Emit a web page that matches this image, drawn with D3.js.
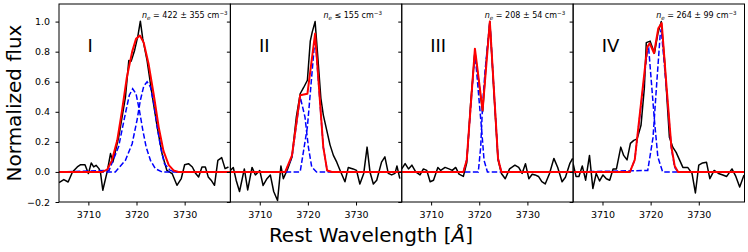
<!DOCTYPE html>
<html>
<head>
<meta charset="utf-8">
<script src="https://cdn.jsdelivr.net/npm/d3@7"></script>
<style>
  body { margin: 0; background: #fff; }
  svg { display: block; font-family: "DejaVu Sans", sans-serif; }
</style>
</head>
<body>
<script>
const waveI = [3703.9, 3704.9, 3705.8, 3706.7, 3707.7, 3708.4, 3709.3, 3710.0, 3710.6, 3711.1, 3711.6, 3712.2, 3712.5, 3713.0, 3713.9, 3714.6, 3715.1, 3716.3, 3717.0, 3717.7, 3718.4, 3718.9, 3719.6, 3720.3, 3720.8, 3721.3, 3722.2, 3723.2, 3724.3, 3725.3, 3726.3, 3727.4, 3728.4, 3729.3, 3730.0, 3730.8, 3731.6, 3732.3, 3732.9, 3733.6, 3734.3, 3734.9, 3735.5, 3736.2, 3736.9, 3737.7, 3738.4, 3739.1];
const fluxI = [-0.071, -0.051, -0.067, 0.0, 0.033, 0.048, 0.048, -0.011, 0.06, 0.033, 0.044, 0.022, 0.0, -0.122, 0.0, 0.122, 0.066, 0.232, 0.365, 0.498, 0.741, 0.737, 0.808, 0.907, 1.003, 0.885, 0.741, 0.52, 0.299, 0.122, 0.011, -0.011, -0.089, -0.044, 0.048, 0.055, 0.033, -0.011, -0.033, 0.033, 0.033, -0.033, -0.055, -0.089, 0.077, 0.095, 0.022, 0.033];

const waveII = [3703.9, 3704.5, 3705.1, 3705.8, 3706.8, 3707.5, 3708.4, 3709.1, 3710.0, 3710.7, 3711.5, 3712.2, 3712.9, 3713.7, 3714.4, 3714.9, 3715.8, 3716.7, 3717.6, 3718.4, 3719.1, 3719.9, 3720.5, 3720.9, 3721.5, 3722.0, 3722.7, 3723.2, 3723.9, 3724.6, 3725.3, 3726.0, 3726.7, 3727.7, 3728.4, 3729.4, 3730.1, 3730.8, 3731.6, 3732.3, 3732.9, 3733.6, 3734.3, 3735.3, 3736.0, 3736.7, 3737.4, 3738.1, 3738.5, 3739.1];
const fluxII = [0.01, 0.03, -0.055, -0.13, 0.02, -0.12, 0.03, -0.02, 0.01, -0.09, -0.045, -0.02, -0.13, -0.19, 0.04, -0.045, 0.02, 0.1, 0.365, 0.52, 0.56, 0.61, 0.87, 0.93, 1.0, 0.79, 0.49, 0.38, 0.28, 0.18, 0.11, 0.065, 0.01, -0.065, 0.03, 0.02, 0.01, -0.08, -0.01, 0.165, 0.0, -0.08, -0.055, 0.065, 0.1, -0.01, -0.02, -0.01, 0.04, -0.045];

const waveIII = [3703.9, 3704.6, 3705.3, 3706.0, 3706.8, 3707.7, 3708.4, 3709.1, 3709.8, 3710.5, 3711.4, 3712.0, 3712.9, 3713.7, 3714.4, 3715.1, 3715.8, 3716.7, 3717.4, 3718.2, 3719.1, 3719.9, 3720.7, 3721.5, 3722.2, 3723.1, 3723.9, 3724.6, 3725.4, 3726.3, 3727.4, 3728.2, 3728.9, 3729.6, 3730.3, 3731.0, 3731.6, 3732.3, 3733.0, 3733.7, 3734.6, 3735.5, 3736.3, 3737.2, 3737.9, 3738.8, 3739.4];
const fluxIII = [0.02, 0.055, 0.02, 0.045, 0.0, -0.02, 0.02, 0.01, -0.065, -0.055, 0.03, 0.01, 0.03, 0.02, 0.01, 0.03, -0.015, -0.03, 0.06, 0.45, 0.8, 0.6, 0.4, 0.75, 1.0, 0.5, 0.08, -0.01, -0.045, 0.02, 0.045, 0.03, -0.01, 0.055, -0.045, -0.015, -0.02, -0.03, -0.065, -0.08, -0.01, 0.09, 0.03, -0.065, -0.035, 0.055, 0.09];

const waveIV = [3703.9, 3704.5, 3705.1, 3705.8, 3706.5, 3707.3, 3708.0, 3708.7, 3709.4, 3710.1, 3710.8, 3711.5, 3712.2, 3712.9, 3713.8, 3714.4, 3715.1, 3715.8, 3716.5, 3717.2, 3718.0, 3718.7, 3719.1, 3719.9, 3720.8, 3721.5, 3722.2, 3722.9, 3723.9, 3724.6, 3725.3, 3726.0, 3726.7, 3727.7, 3728.6, 3729.3, 3730.0, 3730.8, 3731.6, 3732.3, 3733.2, 3734.1, 3735.0, 3735.8, 3736.9, 3737.7, 3738.5, 3739.4];
const fluxIV = [0.055, -0.03, -0.03, 0.04, -0.055, 0.11, -0.11, -0.01, -0.06, -0.02, -0.045, -0.055, 0.02, 0.02, 0.165, 0.11, 0.08, 0.19, 0.21, 0.22, 0.31, 0.56, 0.86, 0.87, 0.79, 0.92, 1.0, 0.74, 0.23, 0.165, 0.13, 0.08, 0.03, 0.03, -0.01, -0.14, 0.045, 0.06, 0.065, -0.045, 0.01, -0.01, -0.02, -0.03, 0.02, -0.03, -0.1, -0.02];

// total fits (red) as [wavelength, flux]
const fitI = [[3703.9, 0], [3712.9, 0], [3713.9, 0.015], [3714.9, 0.077], [3716.0, 0.21], [3717.0, 0.41], [3718.0, 0.63], [3719.1, 0.8], [3719.9, 0.885], [3720.7, 0.907], [3721.5, 0.86], [3722.5, 0.72], [3723.6, 0.51], [3724.6, 0.3], [3725.6, 0.14], [3726.7, 0.045], [3727.7, 0.01], [3728.7, 0], [3739.5, 0]];
const fitII = [[3703.9, 0], [3715.3, 0], [3716.7, 0.11], [3718.4, 0.51], [3719.9, 0.52], [3721.5, 0.92], [3723.2, 0.165], [3724.0, 0.01], [3725.0, 0], [3739.5, 0]];
const fitIII = [[3703.9, 0], [3716.7, 0], [3717.4, 0.08], [3719.1, 0.82], [3720.7, 0.41], [3722.2, 1.0], [3723.9, 0.09], [3724.6, 0], [3739.5, 0]];
const fitIV = [[3703.9, 0], [3715.7, 0], [3716.7, 0.08], [3719.3, 0.83], [3719.8, 0.856], [3720.7, 0.79], [3721.6, 0.956], [3722.3, 0.99], [3723.3, 0.57], [3724.3, 0.17], [3725.0, 0.04], [3725.7, 0], [3739.5, 0]];

// individual [OII] components (blue dashed)
const blueAI = [[3703.9, 0], [3714.3, 0.01], [3716.3, 0.17], [3717.7, 0.39], [3718.5, 0.51], [3719.2, 0.553], [3719.9, 0.52], [3720.6, 0.41], [3721.3, 0.28], [3722.0, 0.166], [3722.9, 0.077], [3723.9, 0.022], [3725.3, 0], [3739.5, 0]];
const blueBI = [[3703.9, 0], [3715.6, 0], [3717.7, 0.077], [3719.1, 0.188], [3720.1, 0.343], [3720.8, 0.476], [3721.5, 0.57], [3722.2, 0.6], [3722.9, 0.565], [3723.6, 0.454], [3724.3, 0.3], [3725.0, 0.166], [3725.8, 0.055], [3727.0, 0.01], [3728.1, 0], [3739.5, 0]];
const blueAII = [[3703.9, 0], [3715.3, 0], [3716.7, 0.1], [3718.4, 0.5], [3719.4, 0.365], [3720.1, 0.166], [3720.8, 0.033], [3721.8, 0], [3739.5, 0]];
const blueBII = [[3703.9, 0], [3718.4, 0], [3719.9, 0.3], [3721.5, 0.9], [3723.2, 0.165], [3724.0, 0.01], [3725.0, 0], [3739.5, 0]];
const blueAIII = [[3703.9, 0], [3716.7, 0], [3717.4, 0.08], [3719.1, 0.8], [3719.9, 0.5], [3720.5, 0.28], [3721.0, 0.077], [3721.7, 0], [3739.5, 0]];
const blueBIII = [[3703.9, 0], [3719.8, 0], [3720.3, 0.166], [3720.7, 0.45], [3721.2, 0.67], [3722.2, 1.0], [3723.9, 0.09], [3724.6, 0], [3739.5, 0]];
const blueAIV = [[3703.9, 0], [3715.7, 0], [3716.7, 0.08], [3719.3, 0.8], [3719.6, 0.82], [3720.8, 0.34], [3721.5, 0.1], [3722.5, 0], [3739.5, 0]];
const blueBIV = [[3703.9, 0], [3719.4, 0.01], [3720.5, 0.23], [3721.2, 0.56], [3722.0, 0.92], [3722.2, 0.95], [3723.3, 0.55], [3724.3, 0.16], [3725.0, 0.03], [3725.7, 0], [3739.5, 0]];

const panelLabels = ["I", "II", "III", "IV"];
const neRelation = ["= 422 \u00b1 355", "\u2264 155", "= 208 \u00b1 54", "= 264 \u00b1 99"];
const xTicks = [3710, 3720, 3730];
const yTicks = [-0.2, 0.0, 0.2, 0.4, 0.6, 0.8, 1.0];

const panels = [
  { wave: waveI, flux: fluxI, fit: fitI, comps: [blueAI, blueBI] },
  { wave: waveII, flux: fluxII, fit: fitII, comps: [blueAII, blueBII] },
  { wave: waveIII, flux: fluxIII, fit: fitIII, comps: [blueAIII, blueBIII] },
  { wave: waveIV, flux: fluxIV, fit: fitIV, comps: [blueAIV, blueBIV] },
];

const width = 748, height = 252;
const plotLeft = 59, plotRight = 744.5, plotTop = 4, plotBottom = 202;
const panelW = (plotRight - plotLeft) / 4;
const neOffset = [83, 93, 83, 83];

const svg = d3.select("body").append("svg")
  .attr("width", width)
  .attr("height", height);

const x = d3.scaleLinear().domain([3703.9, 3739.5]).range([0, panelW]);
const y = d3.scaleLinear().domain([-0.2, 1.117]).range([plotBottom, plotTop]);

const line = d3.line().x((d) => x(d[0])).y((d) => y(d[1]));

panels.forEach((p, i) => {
  const g = svg.append("g").attr("transform", `translate(${plotLeft + i * panelW},0)`);

  g.append("clipPath").attr("id", "clip" + i)
    .append("rect")
    .attr("x", 0).attr("y", plotTop)
    .attr("width", panelW).attr("height", plotBottom - plotTop);

  const plot = g.append("g").attr("clip-path", `url(#clip${i})`);

  // observed spectrum
  plot.append("path")
    .datum(p.wave.map((w, k) => [w, p.flux[k]]))
    .attr("d", line)
    .attr("fill", "none")
    .attr("stroke", "#000")
    .attr("stroke-width", 1.5)
    .attr("stroke-linejoin", "round");

  // the two components
  p.comps.forEach((c) => {
    plot.append("path")
      .datum(c)
      .attr("d", line)
      .attr("fill", "none")
      .attr("stroke", "#0000ff")
      .attr("stroke-width", 1.5)
      .attr("stroke-dasharray", "5.5 2.4");
  });

  // total fit
  plot.append("path")
    .datum(p.fit)
    .attr("d", line)
    .attr("fill", "none")
    .attr("stroke", "#ff0000")
    .attr("stroke-width", 2)
    .attr("stroke-linejoin", "round");

  // axes
  const xAxis = g.append("g")
    .attr("transform", `translate(0,${plotBottom})`)
    .call(d3.axisBottom(x).tickValues(xTicks).tickSize(3.5).tickPadding(6).tickFormat(d3.format("d")));
  const yAxis = g.append("g")
    .call(d3.axisLeft(y).tickValues(yTicks).tickSize(3.5).tickPadding(5.5).tickFormat(d3.format(".1f")));
  if (i > 0) yAxis.selectAll("text").remove();

  [xAxis, yAxis].forEach((a) => {
    a.select(".domain").remove();
    a.selectAll("line").attr("stroke", "#000").attr("stroke-width", 1);
    a.selectAll("text")
      .attr("fill", "#000")
      .style("font-family", "DejaVu Sans")
      .style("font-size", "9.5px");
  });

  // frame
  g.append("rect")
    .attr("x", 0).attr("y", plotTop)
    .attr("width", panelW).attr("height", plotBottom - plotTop)
    .attr("fill", "none")
    .attr("stroke", "#000")
    .attr("stroke-width", 1);

  // region label
  g.append("text")
    .attr("x", 28.5).attr("y", 52)
    .style("font-size", "18px")
    .text(panelLabels[i]);

  // electron density note
  const ne = g.append("text")
    .attr("x", neOffset[i]).attr("y", 18)
    .style("font-size", "8px");
  ne.append("tspan").style("font-style", "italic").text("n");
  ne.append("tspan").style("font-style", "italic").style("font-size", "5.6px").attr("dy", 1.6).text("e");
  ne.append("tspan").attr("dy", -1.6).text(" " + neRelation[i] + " cm");
  ne.append("tspan").style("font-size", "5.6px").attr("dy", -3).text("\u22123");
});

// axis titles
svg.append("text")
  .attr("transform", "translate(20.5,103) rotate(-90)")
  .attr("text-anchor", "middle")
  .style("font-size", "20px")
  .text("Normalized flux");

const xl = svg.append("text")
  .attr("x", 371).attr("y", 242)
  .attr("text-anchor", "middle")
  .style("font-size", "20px");
xl.append("tspan").text("Rest Wavelength [");
xl.append("tspan").style("font-style", "italic").text("\u00c5");
xl.append("tspan").text("]");
</script>
</body>
</html>
